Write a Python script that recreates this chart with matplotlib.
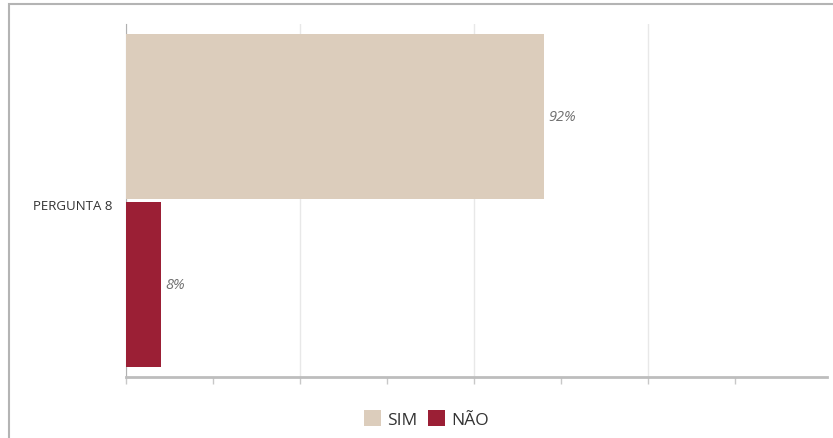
import matplotlib.pyplot as plt
from matplotlib.patches import Rectangle, Patch

# answers to question 8 (counts)
question = 'PERGUNTA 8'
answers = ['SIM', 'NÃO']
counts = [24, 2]
colors = ['#dccdbc', '#9b1f35']

total = sum(counts)
pcts = [round(c / total * 100) for c in counts]

plt.rcParams['font.family'] = ['Open Sans', 'DejaVu Sans']

fig = plt.figure(figsize=(8.33, 4.39), dpi=100)
ax = fig.add_axes([0.1513, 0.139, 0.8412, 0.804])

# one category, two bars stacked vertically (SIM on top)
offsets = [0.237, -0.237]
h = 0.468
for i in range(len(answers)):
    ax.barh(offsets[i], counts[i], height=h, color=colors[i], label=answers[i], zorder=3)
    ax.text(counts[i] + 0.25, offsets[i], '%d%%' % pcts[i], ha='left', va='center',
            fontsize=10.5, style='italic', color='#707070', zorder=4)

ax.set_xlim(0, 40.25)
ax.set_ylim(-0.5, 0.5)
ax.set_xticks(range(0, 31, 10))
ax.set_xticks(range(5, 40, 10), minor=True)
ax.set_xticklabels([])
ax.tick_params(axis='x', which='both', direction='out', length=5, width=1, color='#c8c8c8')
ax.set_yticks([-0.01])
ax.set_yticklabels([question], fontsize=9.5, color='#333333')
ax.tick_params(axis='y', length=0, pad=10)

ax.grid(axis='x', which='major', color='#e8e8e8', linewidth=1, zorder=0)
for side in ['top', 'right']:
    ax.spines[side].set_visible(False)
ax.spines['left'].set_color('#b0b0b0')
ax.spines['bottom'].set_color('#bdbdbd')
ax.spines['bottom'].set_linewidth(2)

handles = [Patch(facecolor=colors[i], edgecolor='none', label=answers[i]) for i in range(len(answers))]
fig.legend(handles=handles, loc='center', bbox_to_anchor=(0.512, 0.043), ncol=2, frameon=False,
           fontsize=12.5, handlelength=1.0, handleheight=1.0, handletextpad=0.35, columnspacing=0.6,
           labelcolor='#333333')

# outer frame (only left and top edges fall inside the image)
fig.patches.append(Rectangle((9 / 833, -0.1), 1.2, 1.1 - 5 / 439, transform=fig.transFigure,
                             fill=False, edgecolor='#b4b4b4', linewidth=1.5))

fig.savefig('out.png', dpi=100)
